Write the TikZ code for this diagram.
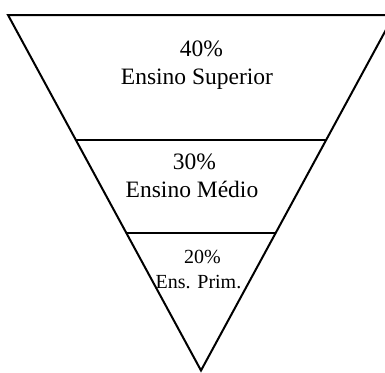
\documentclass[tikz,border=0pt]{standalone}
\usepackage{fontspec}
\setmainfont{Liberation Serif}
\usetikzlibrary{calc}
\begin{document}
\begin{tikzpicture}[x=1pt,y=-1pt,
  edge/.style={line width=2pt, line join=miter},
  big/.style={anchor=base, inner sep=0pt, font=\fontsize{23.5}{28}\selectfont},
  small/.style={anchor=base, inner sep=0pt, font=\fontsize{20}{24}\selectfont}]
\useasboundingbox (0,0) rectangle (385,372);
\clip (0,0) rectangle (385,372);
\coordinate (A) at (8,15);
\coordinate (B) at (394,15);
\coordinate (C) at (201,370.5);
\draw[edge] (A) -- (B) -- (C) -- cycle;
\coordinate (L1) at ($(A)!0.3507!(C)$);
\coordinate (R1) at ($(B)!0.3507!(C)$);
\coordinate (L2) at ($(A)!0.614!(C)$);
\coordinate (R2) at ($(B)!0.614!(C)$);
\draw[edge] (L1) -- (R1);
\draw[edge] (L2) -- (R2);
\node[big] (p40) at (201.5,56.7) {40\%};
\node[big] (t40) at (197,84.3) {Ensino Superior};
\node[big] (p30) at (194.5,169.3) {30\%};
\node[big] (t30) at (192,197.3) {Ensino Médio};
\node[small] (p20) at (202.5,263.3) {20\%};
\node[small] (t20) at (198.5,288) {Ens. Prim.};
\end{tikzpicture}
\end{document}
